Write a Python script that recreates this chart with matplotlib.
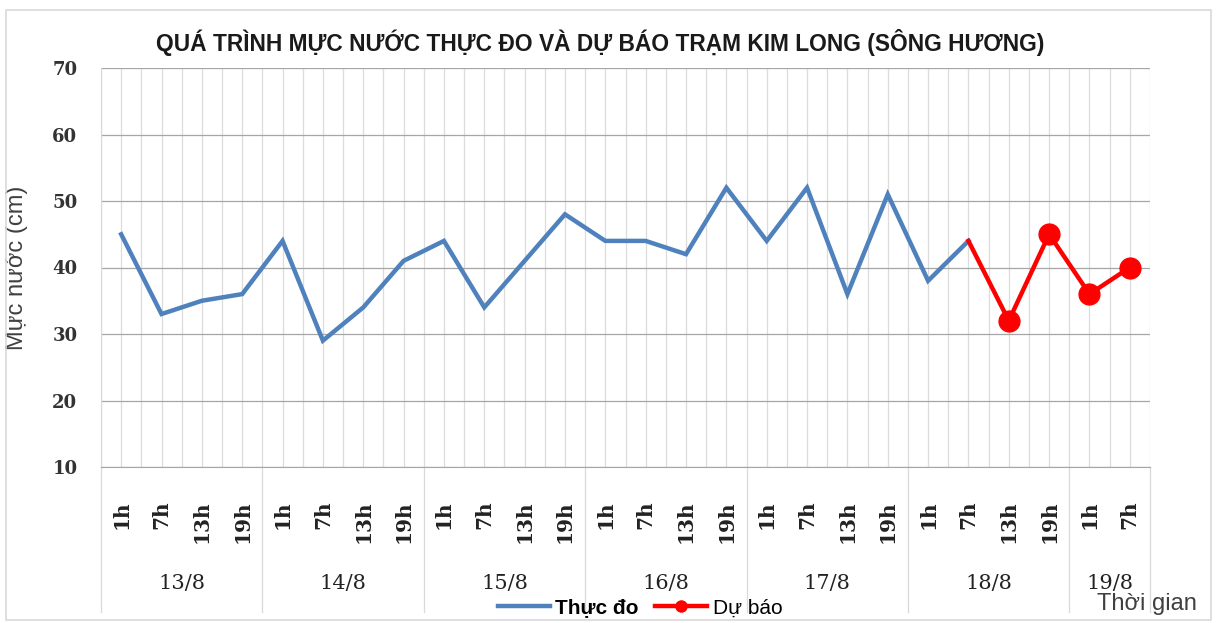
import numpy as np
import matplotlib
matplotlib.use("Agg")
import matplotlib.pyplot as plt
from matplotlib.lines import Line2D
from matplotlib.patches import Rectangle
from matplotlib.transforms import blended_transform_factory

# --- data ---
days = ["13/8", "14/8", "15/8", "16/8", "17/8", "18/8", "19/8"]
hours_per_day = [["1h", "7h", "13h", "19h"]] * 6 + [["1h", "7h"]]
hour_labels = [h for day in hours_per_day for h in day]

# measured (Thực đo), 13/8 1h .. 18/8 7h
thuc_do = [45, 33, 35, 36, 44, 29, 34, 41, 44, 34, 41, 48,
           44, 44, 42, 52, 44, 52, 36, 51, 38, 44]
# forecast (Dự báo), starts from the last measured point 18/8 7h
du_bao = [44, 32, 45, 36, 40]

BLUE = "#4F81BD"
RED = "#FF0000"
SANS = "Liberation Sans"
SERIF = "DejaVu Serif"
GRID_V = "#dcdcdc"

W, H = 1223, 623
fig = plt.figure(figsize=(W / 100, H / 100), dpi=100)
ax = fig.add_axes([101 / W, 1 - 467 / H, (1150 - 101) / W, (467 - 68) / H])

x = np.arange(len(hour_labels))
x_obs = x[:len(thuc_do)]
x_fc = x[len(thuc_do) - 1:len(thuc_do) - 1 + len(du_bao)]

ax.plot(x_obs, thuc_do, color=BLUE, lw=3.2, solid_joinstyle="miter", zorder=3)
ax.plot(x_fc, du_bao, color=RED, lw=3.2, zorder=4)
ax.plot(x_fc[1:], du_bao[1:], "o", color=RED, ms=15, zorder=5)

ax.set_xlim(-0.5, len(hour_labels) - 0.5)
ax.set_ylim(10, 70)
ax.set_yticks(np.arange(10, 71, 10))
ax.tick_params(axis="y", length=0, pad=17, labelsize=13, labelcolor="#333333")
for t in ax.get_yticklabels():
    t.set_family(SERIF)
    t.set_fontweight("bold")

ax.set_xticks(x)
ax.set_xticklabels(hour_labels, rotation=90, family=SERIF, fontsize=14.5,
                   va="top", ha="center", fontweight="semibold")
ax.tick_params(axis="x", length=0, pad=24, labelcolor="#222222")
ax.set_xticks(np.arange(-0.5, len(hour_labels), 0.5), minor=True)
ax.tick_params(axis="x", which="minor", length=0)

ax.grid(axis="y", color="#a6a6a6", lw=0.9)
ax.grid(axis="x", which="both", color=GRID_V, lw=0.9)
ax.set_axisbelow(True)
for s in ["top", "right"]:
    ax.spines[s].set_visible(False)
ax.spines["left"].set_color("#d9d9d9")
ax.spines["bottom"].set_color("#a6a6a6")

# day groups under the hour labels
trans = blended_transform_factory(ax.transData, ax.transAxes)
start = 0
bounds = [-0.5]
for day, hrs in zip(days, hours_per_day):
    center = start + (len(hrs) - 1) / 2
    ax.text(center, -0.293, day, transform=trans, ha="center", va="center",
            family=SERIF, fontsize=15, color="#222222")
    start += len(hrs)
    bounds.append(start - 0.5)
for b in bounds:
    ax.plot([b, b], [0, -0.363], transform=trans, clip_on=False,
            color="#d9d9d9", lw=0.9)

ax.set_ylabel("Mực nước (cm)", family=SANS, fontsize=17, color="#404040")
ax.yaxis.set_label_coords(-(101 - 28) / (1150 - 101), 0.5)

fig.text(600 / W, 1 - 43 / H,
         "QUÁ TRÌNH MỰC NƯỚC THỰC ĐO VÀ DỰ BÁO TRẠM KIM LONG (SÔNG HƯƠNG)",
         ha="center", va="center", family=SANS, fontsize=16.4,
         fontweight="bold", color="#1a1a1a")

handles = [Line2D([], [], color=BLUE, lw=3.2),
           Line2D([], [], color=RED, lw=3.2, marker="o", ms=8)]
leg = fig.legend(handles, ["Thực đo", "Dự báo"], loc="center",
                 bbox_to_anchor=(640 / W, 1 - 608 / H), ncol=2, frameon=False,
                 prop={"family": SANS, "size": 15}, handlelength=2.5,
                 handletextpad=0.25, columnspacing=0.8)
leg.get_texts()[0].set_fontweight("bold")

fig.text(1147 / W, 1 - 604 / H, "Thời gian", ha="center", va="center",
         family=SANS, fontsize=17, color="#404040")

fig.patches.append(Rectangle((6 / W, 3 / H), 1205 / W, 610 / H,
                             transform=fig.transFigure, fill=False,
                             edgecolor="#d9d9d9", lw=1.2))

fig.savefig("out.png", dpi=100)
